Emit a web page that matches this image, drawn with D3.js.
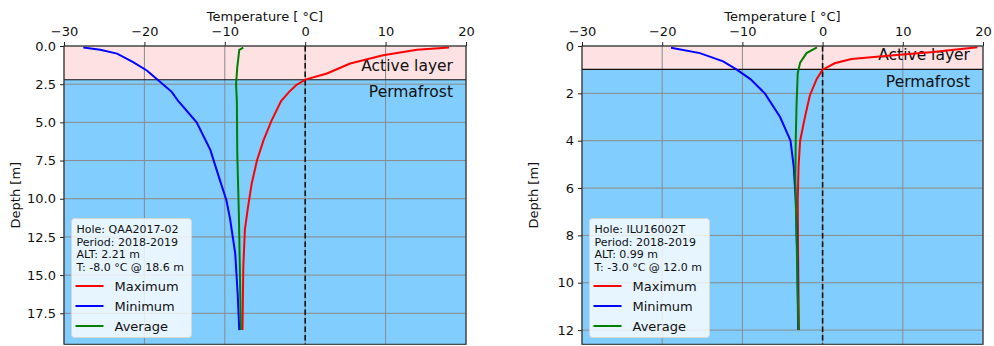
<!DOCTYPE html>
<html>
<head>
<meta charset="utf-8">
<script src="https://cdn.jsdelivr.net/npm/d3@7"></script>
<style>
  body { margin: 0; background: #fff; }
  svg { display: block; font-family: "DejaVu Sans", sans-serif; }
</style>
</head>
<body>
<svg id="chart" width="994" height="346"></svg>
<script>
// ticks
const tempTicks = [-30, -20, -10, 0, 10, 20];
const depthTicksQAA = [0, 2.5, 5, 7.5, 10, 12.5, 15, 17.5];
const depthTicksILU = [0, 2, 4, 6, 8, 10, 12];

// QAA2017-02 : [depth m, temperature °C]
const qaaMax = [[0.1, 17.9], [0.25, 13.9], [0.6, 9.7], [1.15, 5.6], [1.8, 2.7], [2.2, 0.0],
  [2.55, -1.1], [3.0, -2.0], [3.6, -3.0], [4.9, -4.2], [6.2, -5.2], [7.5, -6.0],
  [9.0, -6.65], [10.5, -7.1], [12.0, -7.5], [14.5, -7.7], [18.6, -7.8]];
const qaaMin = [[0.1, -27.6], [0.25, -25.5], [0.5, -23.4], [1.05, -21.4], [1.6, -19.7],
  [2.15, -18.5], [3.0, -16.6], [3.6, -15.8], [5.0, -13.5], [6.8, -11.8], [8.8, -10.6],
  [10.1, -9.8], [11.3, -9.35], [13.6, -8.7], [16.2, -8.4], [18.6, -8.2]];
const qaaAvg = [[0.1, -7.7], [0.25, -8.2], [1.4, -8.45], [2.5, -8.6], [3.6, -8.5],
  [7.0, -8.45], [11.0, -8.25], [14.0, -8.15], [18.6, -8.0]];

// ILU16002T
const iluMax = [[0.05, 19.3], [0.25, 13.8], [0.4, 8.5], [0.55, 3.6], [0.73, 1.5], [1.0, 0.0],
  [1.4, -0.75], [2.1, -1.6], [3.0, -2.2], [4.0, -2.8], [5.1, -3.0], [6.5, -3.1],
  [9.0, -3.05], [12.0, -2.95]];
const iluMin = [[0.07, -18.9], [0.3, -15.3], [0.65, -12.4], [1.0, -10.7], [1.4, -9.0],
  [2.0, -7.2], [3.0, -5.3], [4.0, -4.0], [5.1, -3.6], [6.5, -3.35],
  [9.0, -3.15], [12.0, -3.05]];
const iluAvg = [[0.06, -0.7], [0.3, -2.0], [0.7, -2.8], [1.15, -3.1], [2.5, -3.25],
  [4.0, -3.35], [5.5, -3.4], [8.0, -3.25], [12.0, -3.0]];

const seriesNames = ["Maximum", "Minimum", "Average"];
const seriesColors = ["#ff0000", "#0000ff", "#008000"];

const svg = d3.select("#chart");
const plotTop = 46, plotBottom = 344.3;

function drawPanel(p) {
  const x = d3.scaleLinear().domain([-30, 20]).range([p.x0, p.x1]);
  const y = d3.scaleLinear().domain([0, p.maxDepth * 1.05]).range([plotTop, plotBottom]);
  const g = svg.append("g");

  // active layer / permafrost
  g.append("rect").attr("x", p.x0).attr("y", y(0))
    .attr("width", p.x1 - p.x0).attr("height", y(p.alt) - y(0)).attr("fill", "#fee1e3");
  g.append("rect").attr("x", p.x0).attr("y", y(p.alt))
    .attr("width", p.x1 - p.x0).attr("height", plotBottom - y(p.alt)).attr("fill", "#81cdfd");

  // grid
  g.selectAll(".gx").data(tempTicks).enter().append("line")
    .attr("x1", d => x(d)).attr("x2", d => x(d)).attr("y1", plotTop).attr("y2", plotBottom)
    .attr("stroke", "#8a8a8a").attr("stroke-width", 1);
  g.selectAll(".gy").data(p.ticks).enter().append("line")
    .attr("x1", p.x0).attr("x2", p.x1).attr("y1", d => y(d)).attr("y2", d => y(d))
    .attr("stroke", "#8a8a8a").attr("stroke-width", 1);

  g.append("line").attr("x1", p.x0).attr("x2", p.x1)
    .attr("y1", y(p.alt)).attr("y2", y(p.alt)).attr("stroke", "#111").attr("stroke-width", 1.2);
  g.append("line").attr("x1", x(0)).attr("x2", x(0)).attr("y1", plotTop).attr("y2", plotBottom)
    .attr("stroke", "#111").attr("stroke-width", 1.6).attr("stroke-dasharray", "5.5,3");

  g.append("text").attr("x", p.x1 - 13).attr("y", y(p.labelDepths[0])).attr("dy", "0.35em")
    .attr("text-anchor", "end").attr("font-size", 15.5).attr("fill", "#111").text("Active layer");
  g.append("text").attr("x", p.x1 - 13).attr("y", y(p.labelDepths[1])).attr("dy", "0.35em")
    .attr("text-anchor", "end").attr("font-size", 15.5).attr("fill", "#111").text("Permafrost");

  // curves
  const line = d3.line().x(d => x(d[1])).y(d => y(d[0]));
  p.series.forEach((s, i) => {
    g.append("path").datum(s).attr("d", line).attr("fill", "none")
      .attr("stroke", seriesColors[i]).attr("stroke-width", 2);
  });

  // axes
  const ax = g.append("g").attr("transform", `translate(0,${plotTop})`)
    .call(d3.axisTop(x).tickValues(tempTicks).tickSize(4).tickPadding(6)
      .tickFormat(d => d3.format("d")(d).replace("-", "\u2212")));
  const ay = g.append("g").attr("transform", `translate(${p.x0},0)`)
    .call(d3.axisLeft(y).tickValues(p.ticks).tickSize(4).tickPadding(4).tickFormat(p.fmt));
  [ax, ay].forEach(a => {
    a.select(".domain").remove();
    a.selectAll("text").attr("font-size", 13).attr("fill", "#111")
      .attr("font-family", "DejaVu Sans");
    a.selectAll("line").attr("stroke", "#222");
  });
  g.append("rect").attr("x", p.x0).attr("y", plotTop).attr("width", p.x1 - p.x0)
    .attr("height", plotBottom - plotTop).attr("fill", "none").attr("stroke", "#222").attr("stroke-width", 1);

  g.append("text").attr("x", (p.x0 + p.x1) / 2).attr("y", 21).attr("text-anchor", "middle")
    .attr("font-size", 13).attr("fill", "#111").text("Temperature [ \u00b0C]");
  g.append("text").attr("transform", `translate(${p.x0 - 49},${(plotTop + plotBottom) / 2}) rotate(-90)`)
    .attr("text-anchor", "middle").attr("dy", "0.35em").attr("font-size", 13).attr("fill", "#111")
    .text("Depth [m]");

  // legend
  const lx = p.x0 + 7.5, ly = 218.5;
  const lg = g.append("g");
  lg.append("rect").attr("x", lx).attr("y", ly).attr("width", 120).attr("height", 119)
    .attr("rx", 3).attr("fill", "rgba(255,255,255,0.8)").attr("stroke", "#d6d6d6");
  p.info.forEach((t, i) => {
    lg.append("text").attr("x", lx + 5).attr("y", ly + 11 + i * 12.4).attr("dy", "0.35em")
      .attr("font-size", 11).attr("fill", "#111").text(t);
  });
  seriesNames.forEach((n, i) => {
    const cy = ly + 67.5 + i * 20;
    lg.append("line").attr("x1", lx + 4).attr("x2", lx + 32).attr("y1", cy).attr("y2", cy)
      .attr("stroke", seriesColors[i]).attr("stroke-width", 2);
    lg.append("text").attr("x", lx + 43).attr("y", cy).attr("dy", "0.35em")
      .attr("font-size", 13).attr("fill", "#111").text(n);
  });
}

drawPanel({
  x0: 64, x1: 466, maxDepth: 18.6, alt: 2.21, ticks: depthTicksQAA,
  fmt: d3.format(".1f"), labelDepths: [1.25, 3.0],
  series: [qaaMax, qaaMin, qaaAvg],
  info: ["Hole: QAA2017-02", "Period: 2018-2019", "ALT: 2.21 m", "T: -8.0 \u00b0C @ 18.6 m"]
});
drawPanel({
  x0: 582, x1: 983, maxDepth: 12.0, alt: 0.99, ticks: depthTicksILU,
  fmt: d3.format("d"), labelDepths: [0.35, 1.5],
  series: [iluMax, iluMin, iluAvg],
  info: ["Hole: ILU16002T", "Period: 2018-2019", "ALT: 0.99 m", "T: -3.0 \u00b0C @ 12.0 m"]
});
</script>
</body>
</html>
